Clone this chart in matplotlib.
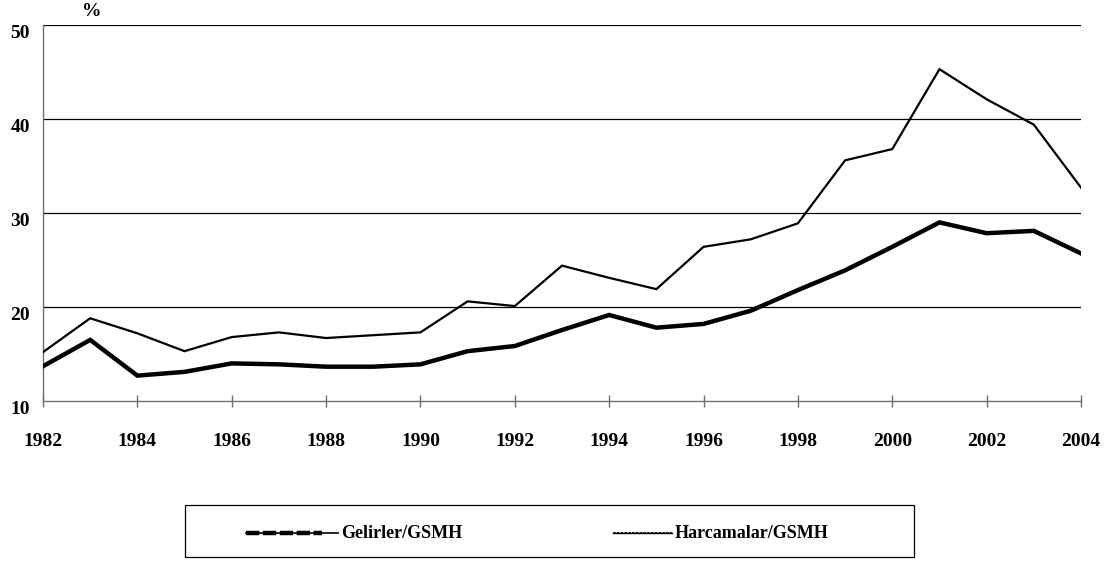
import matplotlib.pyplot as plt
from matplotlib.lines import Line2D
from matplotlib.patches import Rectangle

# years on the horizontal axis
years = list(range(1982, 2005))
# Gelirler/GSMH (%)
gelirler = [13.7, 16.5, 12.7, 13.1, 14.0, 13.9, 13.65, 13.65, 13.9, 15.3, 15.85,
            17.55, 19.15, 17.8, 18.2, 19.6, 21.8, 23.9, 26.4, 29.0, 27.85, 28.1, 25.7]
# Harcamalar/GSMH (%)
harcamalar = [15.2, 18.8, 17.2, 15.3, 16.8, 17.3, 16.7, 17.0, 17.3, 20.6, 20.1,
              24.4, 23.1, 21.9, 26.4, 27.2, 28.9, 35.6, 36.8, 45.3, 42.1, 39.4, 32.7]
yticks = [10, 20, 30, 40, 50]
xticks = list(range(1982, 2005, 2))

plt.rcParams['font.family'] = ['Liberation Serif', 'DejaVu Serif']
plt.rcParams['font.weight'] = 'bold'

W, H = 1118, 563
fig = plt.figure(figsize=(W / 100, H / 100), dpi=100)
ax = fig.add_axes([43 / W, 1 - 401 / H, (1081 - 43) / W, (401 - 25) / H])

for y in yticks[1:]:
    ax.axhline(y, color='black', lw=0.9, zorder=1)

ax.plot(years, harcamalar, color='black', lw=1.6, solid_joinstyle='miter', zorder=3)
ax.plot(years, gelirler, color='black', lw=3.2, solid_joinstyle='miter', zorder=3)

ax.set_xlim(1982, 2004)
ax.set_ylim(10, 50)
ax.set_xticks(xticks)
ax.set_yticks(yticks)
ax.tick_params(axis='x', direction='inout', length=8, width=1, color='#707070',
               labelsize=14, pad=19)
ax.tick_params(axis='y', length=0, labelsize=14, pad=9.5)
for lab in ax.get_xticklabels() + ax.get_yticklabels():
    lab.set_fontweight('bold')
for lab in ax.get_yticklabels():
    lab.set_verticalalignment('top')

for s in ['top', 'right']:
    ax.spines[s].set_visible(False)
for s in ['left', 'bottom']:
    ax.spines[s].set_color('#707070')
    ax.spines[s].set_linewidth(1)

fig.text(92 / W, 1 - 11 / H, '%', ha='center', va='center',
         fontsize=14, fontweight='bold')

# legend box drawn by hand (handles differ in length)
fig.add_artist(Rectangle((185 / W, 1 - 557 / H), (914 - 185) / W, (557 - 505) / H,
                         transform=fig.transFigure, fill=False, edgecolor='black', lw=0.9))
ly = 1 - 533 / H
fig.add_artist(Line2D([246 / W, 338 / W], [ly, ly], transform=fig.transFigure,
                      color='black', lw=1.2))
fig.add_artist(Line2D([246 / W, 322 / W], [ly, ly], transform=fig.transFigure,
                      color='black', lw=3.2, ls=(0, (3, 0.8))))
fig.text(341 / W, ly, 'Gelirler/GSMH', ha='left', va='center', fontsize=13, fontweight='bold')
fig.add_artist(Line2D([613 / W, 672 / W], [ly, ly], transform=fig.transFigure,
                      color='black', lw=1.0))
fig.add_artist(Line2D([613 / W, 672 / W], [ly, ly], transform=fig.transFigure,
                      color='black', lw=1.3, ls=(0, (1.5, 0.6))))
fig.text(675 / W, ly, 'Harcamalar/GSMH', ha='left', va='center', fontsize=13, fontweight='bold')

fig.savefig('out.png', dpi=100)
